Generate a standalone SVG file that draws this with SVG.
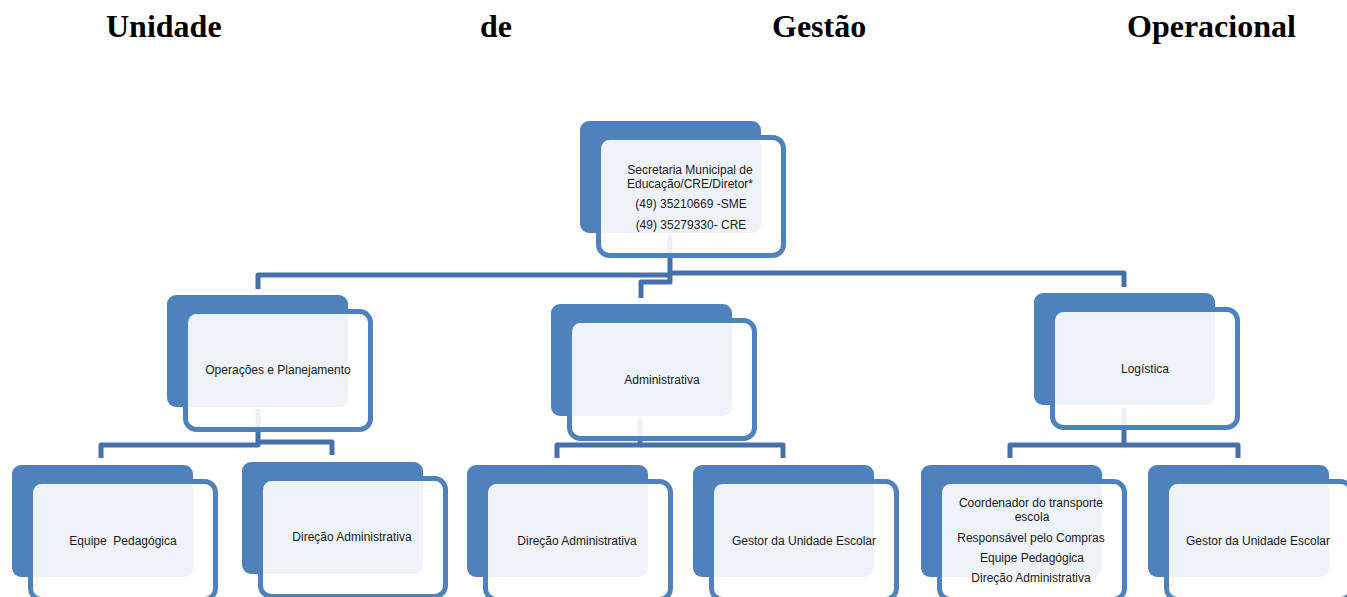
<svg xmlns="http://www.w3.org/2000/svg" width="1347" height="597" viewBox="0 0 1347 597">
<style>
.title{font-family:"Liberation Serif","Times New Roman",serif;font-weight:bold;font-size:32px;fill:#000}
.back{fill:#4F81BD}
.front{fill:#fff;fill-opacity:0.9;stroke:#4F81BD;stroke-width:5}
.lbl{font-family:"Liberation Sans",Arial,sans-serif;font-size:12px;fill:#1a1a1a;text-anchor:middle}
.conn{fill:none;stroke:#4671A8;stroke-width:5;stroke-linejoin:round}
</style>
<rect width="1347" height="597" fill="#fff"/>
<g id="title">
<text class="title" x="106" y="37">Unidade</text>
<text class="title" x="480" y="37">de</text>
<text class="title" x="772" y="37">Gestão</text>
<text class="title" x="1127" y="37">Operacional</text>
</g>
<g id="connectors">
<path class="conn" d="M258,289 V275 H670"/>
<path class="conn" d="M670,235 V282 H641 V298"/>
<path class="conn" d="M670,273 H1124 V287"/>
<path class="conn" d="M258,409 V445 H101 V458"/>
<path class="conn" d="M258,442 H332 V455"/>
<path class="conn" d="M640,418 V445 H557 V458"/>
<path class="conn" d="M640,445 H783 V458"/>
<path class="conn" d="M1124,408 V445 H1010 V458"/>
<path class="conn" d="M1124,445 H1238 V458"/>
</g>
<g id="node-sme">
<rect class="back" x="580" y="121" width="181" height="112" rx="9"/>
<rect class="front" x="598.5" y="137.5" width="185" height="118" rx="11"/>
<text class="lbl" x="690" y="174">Secretaria Municipal de</text>
<text class="lbl" x="690" y="188">Educação/CRE/Diretor*</text>
<text class="lbl" x="691" y="208">(49) 35210669 -SME</text>
<text class="lbl" x="691" y="229">(49) 35279330- CRE</text>
</g>
<g id="node-operacoes">
<rect class="back" x="167" y="295" width="181" height="112" rx="9"/>
<rect class="front" x="185.5" y="311.5" width="185" height="118" rx="11"/>
<text class="lbl" x="278" y="374">Operações e Planejamento</text>
</g>
<g id="node-administrativa">
<rect class="back" x="551" y="304" width="181" height="112" rx="9"/>
<rect class="front" x="569.5" y="320.5" width="185" height="118" rx="11"/>
<text class="lbl" x="662" y="384">Administrativa</text>
</g>
<g id="node-logistica">
<rect class="back" x="1034" y="293" width="181" height="112" rx="9"/>
<rect class="front" x="1052.5" y="309.5" width="185" height="118" rx="11"/>
<text class="lbl" x="1145" y="373">Logística</text>
</g>
<g id="node-equipe">
<rect class="back" x="12" y="465" width="181" height="112" rx="9"/>
<rect class="front" x="30.5" y="481.5" width="185" height="118" rx="11"/>
<text class="lbl" x="123" y="545" xml:space="preserve">Equipe  Pedagógica</text>
</g>
<g id="node-direcao-1">
<rect class="back" x="242" y="462" width="181" height="112" rx="9"/>
<rect class="front" x="260.5" y="478.5" width="185" height="118" rx="11"/>
<text class="lbl" x="352" y="541">Direção Administrativa</text>
</g>
<g id="node-direcao-2">
<rect class="back" x="467" y="465" width="181" height="112" rx="9"/>
<rect class="front" x="485.5" y="481.5" width="185" height="118" rx="11"/>
<text class="lbl" x="577" y="545">Direção Administrativa</text>
</g>
<g id="node-gestor-1">
<rect class="back" x="693" y="465" width="181" height="112" rx="9"/>
<rect class="front" x="711.5" y="481.5" width="185" height="118" rx="11"/>
<text class="lbl" x="804" y="545">Gestor da Unidade Escolar</text>
</g>
<g id="node-coordenador">
<rect class="back" x="921" y="465" width="181" height="112" rx="9"/>
<rect class="front" x="939.5" y="481.5" width="185" height="118" rx="11"/>
<text class="lbl" x="1031" y="507">Coordenador do transporte</text>
<text class="lbl" x="1032" y="521">escola</text>
<text class="lbl" x="1031" y="542">Responsável pelo Compras</text>
<text class="lbl" x="1032" y="562">Equipe Pedagógica</text>
<text class="lbl" x="1031" y="582">Direção Administrativa</text>
</g>
<g id="node-gestor-2">
<rect class="back" x="1148" y="465" width="181" height="112" rx="9"/>
<rect class="front" x="1166.5" y="481.5" width="185" height="118" rx="11"/>
<text class="lbl" x="1258" y="545">Gestor da Unidade Escolar</text>
</g>
</svg>
